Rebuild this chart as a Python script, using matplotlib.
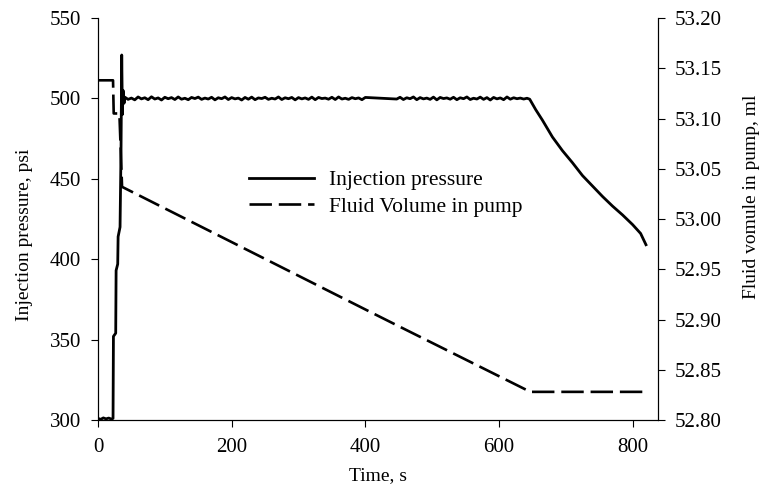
import numpy as np
import matplotlib.pyplot as plt

# injection pressure, psi (start-up, steady hold, shut-in decay)
t_start = [0, 4, 8, 12, 16, 20, 22.5, 23.1, 26.5, 27.1, 29.5, 30.1, 33, 34.5, 35.5, 36.5, 37.5, 39]
p_start = [301.0, 300.4, 301.3, 300.7, 301.2, 300.6, 301.0, 352, 354, 393, 397, 414, 420, 470, 527, 490, 505, 497]

t_hold1 = list(range(40, 401, 5))
p_hold1 = [500.8, 499.4, 500.2, 499.1, 500.9, 499.7, 500.4, 499.2, 501.0, 499.6,
           500.3, 499.0, 500.7, 499.8, 500.5, 499.3, 500.9, 499.5, 500.1, 499.2,
           500.6, 499.9, 500.8, 499.4, 500.2, 499.6, 500.7, 499.1, 500.4, 499.8,
           500.9, 499.3, 500.5, 499.7, 500.2, 499.0, 500.6, 499.5, 500.8, 499.2,
           500.3, 499.9, 500.7, 499.4, 500.1, 499.6, 500.9, 499.3, 500.4, 499.8,
           500.6, 499.1, 500.5, 499.7, 500.3, 499.4, 500.8, 499.2, 500.6, 499.9,
           500.2, 499.5, 500.7, 499.3, 500.9, 499.6, 500.1, 499.4, 500.5, 499.8,
           500.3, 499.2, 500.6]

t_hold2 = list(range(447, 643, 5))
p_hold2 = [499.6, 500.7, 499.3, 500.4, 499.8, 500.9, 499.2, 500.5, 499.7, 500.2,
           499.4, 500.8, 499.1, 500.6, 499.9, 500.3, 499.5, 500.7, 499.2, 500.4,
           499.8, 500.9, 499.3, 500.1, 499.6, 500.8, 499.4, 500.5, 499.0, 500.6,
           499.7, 500.3, 499.2, 500.9, 499.5, 500.4, 499.8, 500.2, 499.6, 500.1]

t_decay = [646, 655, 665, 680, 695, 710, 725, 740, 755, 770, 785, 800, 812, 820]
p_decay = [499.5, 493.0, 486.5, 476.0, 467.5, 460.0, 452.0, 445.5, 439.0, 433.0,
           427.5, 421.5, 416.0, 409.0]

time_p = t_start + t_hold1 + t_hold2 + t_decay
pressure = p_start + p_hold1 + p_hold2 + p_decay

# fluid volume in pump, ml
time_v = [0, 22.5, 23.5, 32, 36, 400, 445, 647, 822]
volume = [53.138, 53.138, 53.105, 53.105, 53.032, 52.910, 52.895, 52.828, 52.828]

plt.rcParams['font.family'] = ['Liberation Serif', 'DejaVu Serif']
plt.rcParams['font.size'] = 15

fig = plt.figure(figsize=(7.73, 4.99), dpi=100)
ax = fig.add_axes([98 / 773, 1 - 420 / 499, 560 / 773, 402 / 499])
ax2 = ax.twinx()

l1, = ax.plot(time_p, pressure, color='black', lw=2.0, label='Injection pressure')
l2, = ax2.plot(time_v, volume, color='black', lw=1.9, dashes=(8.5, 2.6),
               label='Fluid Volume in pump')

ax.set_xlim(0, 838)
ax.set_ylim(300, 550)
ax2.set_ylim(52.80, 53.20)
ax.set_xticks([0, 200, 400, 600, 800])
ax.set_yticks(np.arange(300, 551, 50))
vticks = np.arange(52.80, 53.201, 0.05)
ax2.set_yticks(vticks)
ax2.set_yticklabels([f'{v:.2f}' for v in vticks])

for a in (ax, ax2):
    a.spines['top'].set_visible(False)
    a.tick_params(direction='out', length=5, width=0.8, pad=7)
ax.tick_params(axis='x', pad=8)

ax.set_xlabel('Time, s', fontsize=14, labelpad=7)
ax.set_ylabel('Injection pressure, psi', fontsize=14)
ax2.set_ylabel('Fluid vomule in pump, ml', fontsize=14)
ax.yaxis.set_label_coords(-0.116, 0.46)
ax2.yaxis.set_label_coords(1.152, 0.555)

ax.legend(handles=[l1, l2], loc='center left', bbox_to_anchor=(0.27, 0.563),
          frameon=False, handlelength=3.0, handletextpad=0.7, fontsize=15.5,
          borderaxespad=0, borderpad=0, labelspacing=0.3)

fig.savefig('out.png', dpi=100)
